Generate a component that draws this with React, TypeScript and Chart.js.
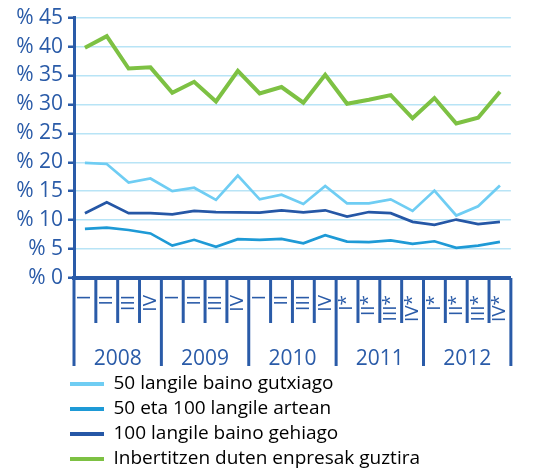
import React, { useEffect, useRef } from 'react';
import { Chart, registerables } from 'chart.js';

Chart.register(...registerables);

// ---- data ----
const quarterLabels = [
  'I', 'II', 'III', 'IV',
  'I', 'II', 'III', 'IV',
  'I', 'II', 'III', 'IV',
  'I*', 'II*', 'III*', 'IV*',
  'I*', 'II*', 'III*', 'IV*',
];
const years = ['2008', '2009', '2010', '2011', '2012'];

const seriesNames = [
  '50 langile baino gutxiago',
  '50 eta 100 langile artean',
  '100 langile baino gehiago',
  'Inbertitzen duten enpresak guztira',
];

const under50 = [19.9, 19.7, 16.5, 17.2, 15.0, 15.6, 13.5, 17.7, 13.6, 14.4, 12.8, 15.9, 12.9, 12.9, 13.6, 11.6, 15.1, 10.8, 12.4, 16.0];
const between50and100 = [8.5, 8.7, 8.3, 7.7, 5.6, 6.6, 5.4, 6.7, 6.6, 6.75, 6.0, 7.4, 6.3, 6.2, 6.5, 5.9, 6.35, 5.2, 5.6, 6.25];
const over100 = [11.2, 13.1, 11.2, 11.2, 11.0, 11.6, 11.4, 11.35, 11.3, 11.7, 11.35, 11.7, 10.6, 11.4, 11.2, 9.7, 9.2, 10.1, 9.3, 9.7];
const total = [39.8, 41.8, 36.2, 36.4, 32.0, 33.9, 30.5, 35.8, 31.9, 33.0, 30.3, 35.1, 30.1, 30.8, 31.6, 27.6, 31.1, 26.7, 27.7, 32.2];

const yMin = 0;
const yMax = 45;
const yStep = 5;

// ---- styles ----
const DARK = '#2a5ba8';
const GRID = '#b8e4f6';
const C_LIGHT = '#6fcdf3';
const C_MID = '#1e9ad6';
const C_DARK = '#2557a6';
const C_GREEN = '#7dc143';
const FONT = '"Open Sans", sans-serif';

const groupAxisPlugin = {
  id: 'groupAxis',
  afterLayout(chart: any) {
    const lg = chart.legend;
    if (lg) {
      lg.left = 64;
      lg.top = 368.5;
    }
  },
  afterDraw(chart: any) {
    const { ctx, chartArea, scales } = chart;
    const xs = scales.x;
    const n = quarterLabels.length;
    const px = (i: number) => xs.getPixelForValue(i);
    const base = chartArea.bottom;
    ctx.save();
    ctx.strokeStyle = DARK;
    ctx.lineWidth = 3;
    for (let i = 0; i <= n; i++) {
      const bx = i === 0 ? chartArea.left : i === n ? chartArea.right : (px(i - 1) + px(i)) / 2;
      const isYear = i % 4 === 0;
      ctx.beginPath();
      ctx.moveTo(bx, base);
      ctx.lineTo(bx, base + (isYear ? 88 : 45));
      ctx.stroke();
    }
    ctx.fillStyle = DARK;
    ctx.font = `21px ${FONT}`;
    ctx.textAlign = 'center';
    ctx.textBaseline = 'alphabetic';
    years.forEach((yr, k) => {
      const cx = (px(4 * k) + px(4 * k + 3)) / 2;
      ctx.fillText(yr, cx, base + 87);
    });
    ctx.restore();
  },
};

export default function App() {
  const ref = useRef<HTMLCanvasElement>(null);

  useEffect(() => {
    document.body.style.margin = '0';
    const colors = [C_LIGHT, C_MID, C_DARK, C_GREEN];
    const widths = [2.7, 2.7, 2.7, 4];
    const values = [under50, between50and100, over100, total];
    const chart = new Chart(ref.current as HTMLCanvasElement, {
      type: 'line',
      data: {
        labels: quarterLabels,
        datasets: values.map((v, i) => ({
          label: seriesNames[i],
          data: v,
          borderColor: colors[i],
          backgroundColor: colors[i],
          borderWidth: widths[i],
          pointRadius: 0,
          tension: 0,
          fill: false,
        })),
      },
      options: {
        responsive: false,
        animation: false,
        layout: { padding: { top: 15.5, right: 10, left: 0, bottom: 0 } },
        plugins: {
          tooltip: { enabled: false },
          legend: {
            position: 'bottom',
            align: 'start',
            labels: {
              boxWidth: 34,
              boxHeight: 4,
              padding: 6,
              color: DARK,
              font: { family: FONT, size: 19 },
              generateLabels: (c: any) =>
                c.data.datasets.map((d: any, i: number) => ({
                  text: d.label,
                  fillStyle: d.borderColor,
                  strokeStyle: d.borderColor,
                  lineWidth: 0,
                  hidden: false,
                  datasetIndex: i,
                })),
            },
          },
        },
        scales: {
          x: {
            type: 'category',
            offset: true,
            grid: { display: false, drawTicks: false },
            border: { display: true, color: DARK, width: 4 },
            ticks: {
              autoSkip: false,
              minRotation: 90,
              maxRotation: 90,
              padding: 17,
              color: DARK,
              font: { family: FONT, size: 19 },
            },
            afterFit: (s: any) => {
              s.height = 87;
            },
          },
          y: {
            min: yMin,
            max: yMax,
            ticks: {
              stepSize: yStep,
              padding: 5,
              color: DARK,
              font: { family: FONT, size: 21 },
              callback: (v: any) => '% ' + v,
            },
            grid: { color: GRID, lineWidth: 1.5, tickColor: DARK, tickLength: 6, tickWidth: 2.5 },
            border: { color: DARK, width: 3 },
            afterFit: (s: any) => {
              s.width = 74;
            },
          },
        },
      },
      plugins: [groupAxisPlugin],
    } as any);
    return () => chart.destroy();
  }, []);

  return (
    <div style={{ width: 540, height: 475 }}>
      <canvas ref={ref} width={540} height={475} style={{ display: 'block' }} />
    </div>
  );
}
